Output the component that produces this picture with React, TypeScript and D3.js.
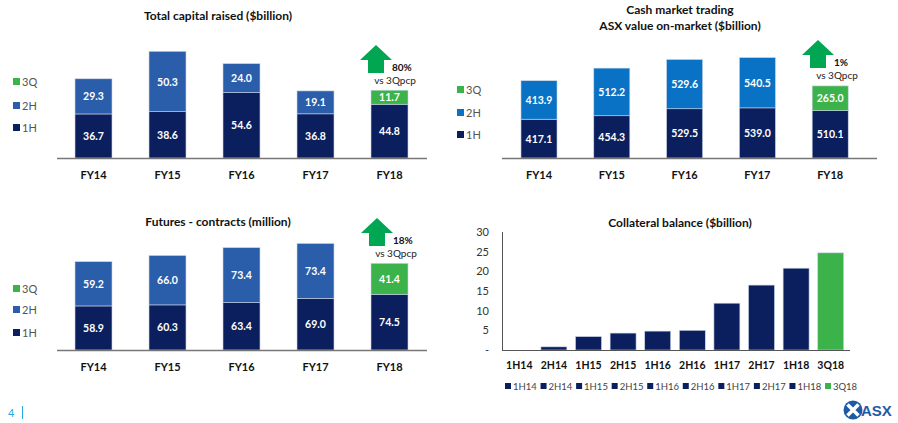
import React from 'react'
import * as d3 from 'd3'

const years = ['FY14', 'FY15', 'FY16', 'FY17', 'FY18']

// Total capital raised ($billion)
const capital1H = [36.7, 38.6, 54.6, 36.8, 44.8]
const capital2H = [29.3, 50.3, 24.0, 19.1, 11.7]

// Cash market trading ($billion)
const cash1H = [417.1, 454.3, 529.5, 539.0, 510.1]
const cash2H = [413.9, 512.2, 529.6, 540.5, 265.0]

// Futures contracts (million)
const futures1H = [58.9, 60.3, 63.4, 69.0, 74.5]
const futures2H = [59.2, 66.0, 73.4, 73.4, 41.4]

// Collateral balance ($billion)
const periods = ['1H14', '2H14', '1H15', '2H15', '1H16', '2H16', '1H17', '2H17', '1H18', '3Q18']
const collateral = [0, 0.8, 3.4, 4.3, 4.8, 5.0, 11.9, 16.5, 20.8, 24.7]
const collateralTicks = [0, 5, 10, 15, 20, 25, 30]

const NAVY = '#0b1f5e'
const MID = '#2a5eab'
const BRIGHT = '#0a72c4'
const GREEN = '#3bb34a'
const ARROW = '#00a651'
const FONT = 'Lato, "Open Sans", sans-serif'

type PanelProps = {
  lo: number[]
  hi: number[]
  x0: number
  x1: number
  pad: number
  base: number
  top: number
  max: number
  axis: [number, number]
  legendX: number
  legendY: number[]
  upper: string
  labelY: number
  arrow: { x: number; y: number; pct: string }
}

function Arrow({ x, y, pct }: { x: number; y: number; pct: string }) {
  const p = d3.path()
  p.moveTo(x, y)
  p.lineTo(x + 16, y + 15)
  p.lineTo(x + 8, y + 15)
  p.lineTo(x + 8, y + 28)
  p.lineTo(x - 8, y + 28)
  p.lineTo(x - 8, y + 15)
  p.lineTo(x - 16, y + 15)
  p.closePath()
  return (
    <g>
      <path d={p.toString()} fill={ARROW} />
      <text x={x + 16} y={y + 26} fontSize={10} fontWeight="bold" fill="#111">{pct}</text>
      <text x={x + 19} y={y + 39} fontSize={10} textAnchor="middle" fill="#222">vs 3Qpcp</text>
    </g>
  )
}

function Panel(p: PanelProps) {
  const x = d3.scaleBand<string>().domain(years).range([p.x0, p.x1]).paddingInner(p.pad).paddingOuter(p.pad / 2)
  const y = d3.scaleLinear().domain([0, p.max]).range([p.base, p.top])
  const bw = x.bandwidth()
  const legend = [
    { label: '3Q', color: GREEN },
    { label: '2H', color: p.upper },
    { label: '1H', color: NAVY },
  ]
  return (
    <g fontFamily={FONT}>
      {years.map((yr, i) => {
        const bx = x(yr) as number
        const y1 = y(p.lo[i])
        const y2 = y(p.lo[i] + p.hi[i])
        const upCol = i === years.length - 1 ? GREEN : p.upper
        return (
          <g key={yr}>
            <rect x={bx} y={y1} width={bw} height={p.base - y1} fill={NAVY} stroke="#c9d3e6" strokeWidth={0.6} />
            <rect x={bx} y={y2} width={bw} height={y1 - y2} fill={upCol} stroke="#c9d3e6" strokeWidth={0.6} />
            <text x={bx + bw / 2} y={(y1 + p.base) / 2 + 4} textAnchor="middle" fontSize={10.5} fontWeight="bold" fill="#fff">{p.lo[i].toFixed(1)}</text>
            <text x={bx + bw / 2} y={(y1 + y2) / 2 + 4} textAnchor="middle" fontSize={10.5} fontWeight="bold" fill="#fff">{p.hi[i].toFixed(1)}</text>
            <text x={bx + bw / 2} y={p.labelY} textAnchor="middle" fontSize={11} fontWeight="bold" fill="#111">{yr}</text>
          </g>
        )
      })}
      <line x1={p.axis[0]} x2={p.axis[1]} y1={p.base + 0.5} y2={p.base + 0.5} stroke="#777" strokeWidth={1.5} />
      {legend.map((l, i) => (
        <g key={l.label}>
          <rect x={p.legendX} y={p.legendY[i] - 4} width={7} height={7} fill={l.color} />
          <text x={p.legendX + 9} y={p.legendY[i] + 4} fontSize={11} fill="#555">{l.label}</text>
        </g>
      ))}
      <Arrow {...p.arrow} />
    </g>
  )
}

function Collateral() {
  const x = d3.scaleBand<string>().domain(periods).range([502, 848]).paddingInner(0.25).paddingOuter(0.125)
  const y = d3.scaleLinear().domain([0, 30]).range([350, 232])
  const bw = x.bandwidth()
  const lx = d3.scalePoint<string>().domain(periods).range([505, 825])
  return (
    <g fontFamily={FONT}>
      {periods.map((p, i) => (
        <g key={p}>
          {collateral[i] > 0 && (
            <rect x={x(p)} y={y(collateral[i])} width={bw} height={350 - y(collateral[i])}
              fill={i === periods.length - 1 ? GREEN : NAVY} stroke="#c9d3e6" strokeWidth={0.6} />
          )}
          <text x={(x(p) as number) + bw / 2} y={369} textAnchor="middle" fontSize={10.5} fontWeight="bold" fill="#111">{p}</text>
          <rect x={lx(p)} y={383} width={6} height={6} fill={i === periods.length - 1 ? GREEN : NAVY} />
          <text x={(lx(p) as number) + 8} y={390} fontSize={9.5} fill="#444">{p}</text>
        </g>
      ))}
      {collateralTicks.map(t => (
        <text key={t} x={489} y={y(t) + 4} textAnchor="end" fontSize={11} fill="#333">{t === 0 ? '-' : t}</text>
      ))}
      <line x1={502.5} x2={502.5} y1={232} y2={350} stroke="#555" strokeWidth={1} />
      <line x1={502} x2={850} y1={350.5} y2={350.5} stroke="#555" strokeWidth={1.2} />
      <text x={680} y={227} textAnchor="middle" fontSize={12} fontWeight="bold" fill="#111">Collateral balance ($billion)</text>
    </g>
  )
}

export default function App() {
  return (
    <svg width={898} height={423} style={{ position: 'absolute', left: 0, top: 0, background: '#fff' }}>
      <g fontFamily={FONT}>
        <text x={218} y={20} textAnchor="middle" fontSize={12} fontWeight="bold" fill="#111">Total capital raised ($billion)</text>
        <text x={680} y={14} textAnchor="middle" fontSize={12} fontWeight="bold" fill="#111">Cash market trading</text>
        <text x={680} y={30} textAnchor="middle" fontSize={12} fontWeight="bold" fill="#111">ASX value on-market ($billion)</text>
        <text x={218} y={226} textAnchor="middle" fontSize={12} fontWeight="bold" fill="#111">Futures - contracts (million)</text>
      </g>
      <Panel lo={capital1H} hi={capital2H} x0={56.5} x1={426.5} pad={0.5} base={158} top={38} max={100}
        axis={[57, 427]} legendX={13} legendY={[82, 106, 128]} upper={MID} labelY={179}
        arrow={{ x: 376, y: 45, pct: '80%' }} />
      <Panel lo={cash1H} hi={cash2H} x0={502.6} x1={866.6} pad={0.505} base={158} top={65} max={1000}
        axis={[502, 877]} legendX={457} legendY={[90, 113, 135]} upper={BRIGHT} labelY={179}
        arrow={{ x: 818, y: 40, pct: '1%' }} />
      <Panel lo={futures1H} hi={futures2H} x0={56.5} x1={426.5} pad={0.5} base={350} top={275.2} max={100}
        axis={[57, 427]} legendX={13} legendY={[289, 310, 333]} upper={MID} labelY={371}
        arrow={{ x: 377, y: 218, pct: '18%' }} />
      <Collateral />
      <text x={8} y={417} fontSize={11} fill="#29a8e0" fontFamily={FONT}>4</text>
      <line x1={22.5} x2={22.5} y1={406} y2={419} stroke="#29a8e0" strokeWidth={1} />
      <g>
        <circle cx={853} cy={410} r={9.5} fill="#1f5aa6" />
        <path d="M847.5,404.5 L858.5,415.5 M858.5,404.5 L847.5,415.5" stroke="#fff" strokeWidth={3.5} />
        <text x={861} y={416} fontSize={15} fontWeight="bold" fill="#1f5aa6" fontFamily="'Liberation Sans', sans-serif">ASX</text>
      </g>
    </svg>
  )
}
